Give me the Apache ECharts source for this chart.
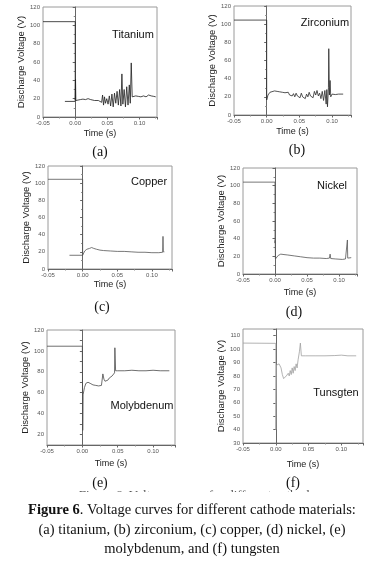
<!DOCTYPE html>
<html>
<head>
<meta charset="utf-8">
<script src="https://cdn.jsdelivr.net/npm/echarts@6/dist/echarts.min.js"></script>
<style>
  html, body { margin: 0; padding: 0; background: #fff; }
  #chart { width: 371px; height: 561px; }
</style>
</head>
<body>
<div id="chart"></div>
<script>
  // values: [time (s), voltage (V)]
  var titaniumPre = [[-0.016, 17], [0, 17]]
  var titaniumData = [[-0.05, 104], [0, 104], [0, 18], [0.0005, 41], [0.001, 18], [0.004, 18.5], [0.008, 19],
    [0.012, 19.5], [0.016, 19], [0.02, 20], [0.024, 19], [0.027, 21], [0.03, 18], [0.033, 20], [0.036, 18],
    [0.039, 19], [0.041, 16], [0.0425, 24], [0.044, 13], [0.0455, 22], [0.047, 15], [0.049, 20], [0.051, 14],
    [0.053, 23], [0.055, 12], [0.057, 25], [0.059, 11], [0.061, 26], [0.063, 15], [0.065, 28], [0.067, 13],
    [0.069, 30], [0.071, 12], [0.0725, 47], [0.074, 14], [0.076, 30], [0.078, 11], [0.08, 33], [0.082, 13],
    [0.084, 35], [0.0855, 15], [0.087, 59], [0.0885, 22], [0.09, 24], [0.094, 23], [0.098, 22.5], [0.102, 22],
    [0.106, 23], [0.11, 22], [0.114, 24], [0.118, 23], [0.122, 22.5], [0.125, 22]]
  var zirconiumData = [[-0.05, 104.5], [0, 104.5], [0, 16.5], [0.002, 22], [0.005, 25], [0.008, 26], [0.012, 26.5],
    [0.016, 26], [0.02, 25.5], [0.024, 25], [0.028, 24.5], [0.031, 23], [0.033, 25], [0.035, 22], [0.037, 24],
    [0.039, 21], [0.041, 23.5], [0.043, 20], [0.045, 24], [0.047, 21], [0.049, 23], [0.051, 19], [0.053, 24],
    [0.055, 20], [0.057, 22], [0.059, 18], [0.061, 23], [0.063, 20], [0.065, 25], [0.067, 21], [0.069, 23],
    [0.071, 19], [0.073, 26], [0.075, 22], [0.077, 27], [0.079, 21], [0.081, 24], [0.083, 18], [0.085, 26],
    [0.087, 16], [0.089, 27], [0.091, 12], [0.092, 28], [0.093, 9], [0.0945, 30], [0.095, 73], [0.096, 22],
    [0.097, 38], [0.098, 20], [0.1, 23], [0.105, 22.5], [0.11, 23], [0.117, 23]]
  var copperPre = [[-0.019, 16], [0, 16]]
  var copperData = [[-0.05, 104.5], [0, 104.5], [0, 16], [0.001, 17], [0.003, 21], [0.006, 23], [0.01, 24],
    [0.013, 25], [0.016, 24], [0.02, 23], [0.025, 22], [0.03, 21.5], [0.04, 21], [0.05, 20.5], [0.06, 20.5],
    [0.07, 20], [0.08, 19.5], [0.09, 19.5], [0.1, 19], [0.11, 19], [0.1155, 19.5], [0.116, 38], [0.1165, 20],
    [0.118, 20]]
  var nickelData = [[-0.05, 104], [0, 104], [0, 35], [0.0003, 38], [0.0006, 17], [0.002, 18], [0.005, 21],
    [0.009, 22.5], [0.014, 22], [0.02, 21.5], [0.03, 20.5], [0.04, 19.5], [0.05, 18.5], [0.06, 18], [0.07, 18],
    [0.08, 17.5], [0.085, 18], [0.086, 22.5], [0.087, 17.5], [0.095, 17], [0.105, 16.5], [0.11, 17],
    [0.1125, 17.5], [0.113, 38.5], [0.1135, 18], [0.119, 18.5]]
  var molybdenumData = [[-0.05, 104.5], [0, 104.5], [0.0005, 24], [0.001, 58], [0.003, 65], [0.005, 69],
    [0.008, 70], [0.011, 69], [0.013, 70], [0.015, 67.5], [0.017, 68.5], [0.019, 67], [0.021, 68], [0.023, 66.5],
    [0.025, 68], [0.027, 67], [0.028, 68], [0.029, 78], [0.0305, 73], [0.032, 71], [0.034, 70.5], [0.036, 72],
    [0.038, 74], [0.04, 75], [0.042, 76], [0.044, 77], [0.0455, 79], [0.046, 103], [0.047, 81], [0.05, 81],
    [0.06, 81], [0.07, 81.5], [0.08, 81], [0.09, 81], [0.1, 81.5], [0.11, 81], [0.123, 81]]
  var tungstenData = [[-0.05, 104.5], [0, 104.3], [0, 40], [0.0005, 40], [0.001, 88], [0.003, 87], [0.005, 89],
    [0.0065, 90], [0.008, 86], [0.01, 81], [0.012, 78], [0.013, 77], [0.015, 79], [0.016, 80], [0.0175, 79],
    [0.019, 82], [0.0205, 80], [0.022, 84], [0.0235, 81], [0.025, 86], [0.0265, 82], [0.028, 87], [0.0295, 84],
    [0.031, 89], [0.0325, 86], [0.034, 92], [0.036, 98], [0.0375, 104.5], [0.039, 95], [0.045, 95], [0.06, 95],
    [0.075, 95], [0.09, 95.2], [0.1, 95.5], [0.11, 95], [0.1226, 95]]

  var materials = ['Titanium', 'Zirconium', 'Copper', 'Nickel', 'Molybdenum', 'Tunsgten']
  var panelTags = ['(a)', '(b)', '(c)', '(d)', '(e)', '(f)']
  var xMin = -0.05
  var xMaxes = [0.127, 0.129, 0.129, 0.128, 0.131, 0.133]
  var yRanges = [[0, 120, 20], [0, 120, 20], [0, 120, 20], [0, 120, 20], [10, 120, 10], [30, 115, 10]]
  var yLabelStep = [20, 20, 20, 20, 20, 10]

  // plot boxes, px
  var boxes = [
    {left: 43, top: 7, width: 114, height: 110},
    {left: 234, top: 6, width: 117, height: 109},
    {left: 48, top: 166, width: 124, height: 103},
    {left: 243, top: 168, width: 114, height: 106},
    {left: 47, top: 330, width: 128, height: 115},
    {left: 243, top: 329, width: 120, height: 114}
  ]
  var nameGaps = [12, 12, 11, 14, 14, 17]
  var yNameGaps = [14.5, 11.5, 14.5, 9.5, 13.5, 14.5]
  var lineColors = ['#1e1e1e', '#2a2a2a', '#555', '#555', '#4a4a4a', '#a0a0a0']
  // material name positions (centre)
  var nameSpots = [[133, 35], [325, 23], [149, 182], [332, 186], [142, 406], [336, 393]]
  var tagSpots = [[100, 152], [297, 150], [102, 307], [294, 312], [100, 483], [293, 483]]

  var font = 'Liberation Sans, Arial, sans-serif'
  var serif = 'Liberation Serif, Times New Roman, serif'

  var grids = [], xAxes = [], yAxes = [], series = [], graphics = []

  boxes.forEach(function (b, i) {
    grids.push({
      left: b.left, top: b.top, width: b.width, height: b.height,
      show: true, borderColor: '#9a9a9a', borderWidth: 1, backgroundColor: 'transparent'
    })
    xAxes.push({
      gridIndex: i,
      type: 'value',
      min: xMin,
      max: xMaxes[i],
      interval: 0.05,
      name: 'Time (s)',
      nameLocation: 'middle',
      nameGap: nameGaps[i],
      nameTextStyle: {fontFamily: font, fontSize: 9, color: '#222'},
      axisLine: {show: true, lineStyle: {color: '#666', width: 1}},
      axisTick: {show: true, length: 2.5, lineStyle: {color: '#666'}},
      minorTick: {show: true, splitNumber: 2, length: 1.5, lineStyle: {color: '#888'}},
      splitLine: {show: false},
      axisLabel: {
        fontFamily: font, fontSize: 6, color: '#555', margin: 3,
        formatter: function (v) {
          var k = Math.round(v / 0.05)
          if (Math.abs(v - k * 0.05) > 1e-6) return ''
          return (k * 0.05).toFixed(2)
        }
      }
    })
    var r = yRanges[i]
    var step = yLabelStep[i]
    yAxes.push({
      gridIndex: i,
      type: 'value',
      min: r[0],
      max: r[1],
      interval: r[2],
      name: 'Discharge Voltage (V)',
      nameLocation: 'middle',
      nameRotate: 90,
      nameGap: yNameGaps[i],
      nameTextStyle: {fontFamily: font, fontSize: 9.5, color: '#222'},
      axisLine: {show: true, lineStyle: {color: '#666', width: 1}},
      axisTick: {show: true, length: 2.5, lineStyle: {color: '#666'}},
      minorTick: {show: r[2] === 20, splitNumber: 2, length: 1.5, lineStyle: {color: '#888'}},
      splitLine: {show: false},
      axisLabel: {
        fontFamily: font, fontSize: 6, color: '#555', margin: 3,
        formatter: function (v) {
          return (v % step === 0) ? String(v) : ''
        }
      }
    })
    graphics.push({
      type: 'text', z: 10,
      x: nameSpots[i][0], y: nameSpots[i][1],
      style: {text: materials[i], fontFamily: font, fontSize: 11, fill: '#111', align: 'center', verticalAlign: 'middle'}
    })
    graphics.push({
      type: 'text', z: 10,
      x: tagSpots[i][0], y: tagSpots[i][1],
      style: {text: panelTags[i], fontFamily: serif, fontSize: 14, fill: '#111', align: 'center', verticalAlign: 'middle'}
    })
  })

  var panelData = [
    [titaniumData, titaniumPre],
    [zirconiumData],
    [copperData, copperPre],
    [nickelData],
    [molybdenumData],
    [tungstenData]
  ]
  panelData.forEach(function (list, i) {
    list.forEach(function (d) {
      series.push({
        type: 'line',
        xAxisIndex: i,
        yAxisIndex: i,
        data: d,
        symbol: 'none',
        showSymbol: false,
        lineStyle: {color: lineColors[i], width: 0.8},
        silent: true
      })
    })
  })

  // caption, with the half-hidden duplicate line above it
  graphics.push({
    type: 'text', z: 20, x: 197, y: 489,
    style: {text: 'Figure 6. Voltage curves for different cathode', fontFamily: serif, fontSize: 13,
      fill: '#555', align: 'center', verticalAlign: 'top'}
  })
  graphics.push({
    type: 'rect', z: 21, shape: {x: 0, y: 492, width: 371, height: 11},
    style: {fill: '#fff'}
  })
  graphics.push({
    type: 'text', z: 22, x: 192, y: 510,
    style: {
      text: '{b|Figure 6}. Voltage curves for different cathode materials:',
      fontFamily: serif, fontSize: 14.5, fill: '#111', align: 'center', verticalAlign: 'middle',
      rich: {b: {fontFamily: serif, fontSize: 14.5, fontWeight: 'bold', fill: '#111'}}
    }
  })
  graphics.push({
    type: 'text', z: 22, x: 192, y: 530,
    style: {text: '(a) titanium, (b) zirconium, (c) copper, (d) nickel, (e)', fontFamily: serif,
      fontSize: 14.5, fill: '#111', align: 'center', verticalAlign: 'middle'}
  })
  graphics.push({
    type: 'text', z: 22, x: 192, y: 549,
    style: {text: 'molybdenum, and (f) tungsten', fontFamily: serif,
      fontSize: 14.5, fill: '#111', align: 'center', verticalAlign: 'middle'}
  })

  var myChart = echarts.init(document.getElementById('chart'), null, {renderer: 'canvas'})
  myChart.setOption({
    animation: false,
    backgroundColor: '#fff',
    grid: grids,
    xAxis: xAxes,
    yAxis: yAxes,
    series: series,
    graphic: graphics
  })
</script>
</body>
</html>
